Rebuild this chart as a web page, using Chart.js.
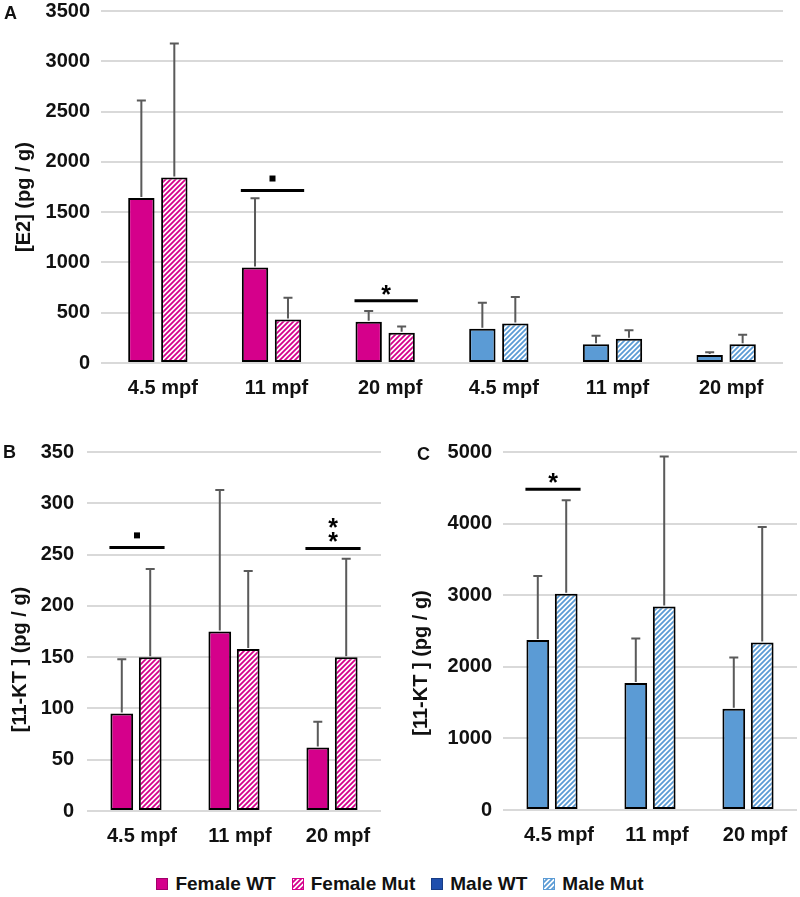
<!DOCTYPE html>
<html><head><meta charset="utf-8">
<script src="https://cdn.jsdelivr.net/npm/chart.js@4"></script>
<style>
body{margin:0;background:#fff;width:800px;height:897px;position:relative;overflow:hidden;font-family:"Liberation Sans",Arial,sans-serif;}
.box{position:absolute;}
.panel{position:absolute;font-weight:bold;font-size:18px;color:#111;line-height:1;}
#legend{position:absolute;left:0;top:872px;width:800px;height:24px;display:flex;justify-content:center;align-items:center;font-weight:bold;font-size:19px;color:#111;}
.item{display:flex;align-items:center;margin:0 8px;}
.item canvas{margin-right:7px;}
</style></head><body>
<div class="box" style="left:0;top:0;width:800px;height:400px"><canvas id="cA" width="800" height="400"></canvas></div>
<div class="box" style="left:0;top:400px;width:400px;height:450px"><canvas id="cB" width="400" height="450"></canvas></div>
<div class="box" style="left:400px;top:400px;width:400px;height:450px"><canvas id="cC" width="400" height="450"></canvas></div>
<div class="panel" style="left:4px;top:4px">A</div>
<div class="panel" style="left:3px;top:443px">B</div>
<div class="panel" style="left:417px;top:445px">C</div>
<div id="legend"></div>
<script>
// ---------- data ----------
const catsA = ['4.5 mpf','11 mpf','20 mpf','4.5 mpf','11 mpf','20 mpf'];
const sexA = ['F','F','F','M','M','M'];
const e2WT = [1640, 950, 410, 340, 186, 80];
const e2WTErr = [980, 698, 118, 268, 96, 37];
const e2Mut = [1845, 432, 302, 392, 242, 186];
const e2MutErr = [1343, 226, 70, 273, 94, 106];

const catsBC = ['4.5 mpf','11 mpf','20 mpf'];
const ktFemWT = [95, 175, 62];
const ktFemWTErr = [54, 139, 26];
const ktFemMut = [150, 158, 150];
const ktFemMutErr = [87, 77, 97];

const ktMaleWT = [2373, 1774, 1413];
const ktMaleWTErr = [908, 636, 730];
const ktMaleMut = [3020, 2841, 2340];
const ktMaleMutErr = [1320, 2111, 1625];

const yTicksA = [0, 3500, 500];
const yTicksB = [0, 350, 50];
const yTicksC = [0, 5000, 1000];

const sigA = [{i:1, y:1715, mark:'sq'}, {i:2, y:618, mark:'*'}];
const sigB = [{i:0, y:257, mark:'sq'}, {i:2, y:256, mark:'**'}];
const sigC = [{i:0, y:4480, mark:'*'}];

const legendNames = ['Female WT','Female Mut','Male WT','Male Mut'];

// ---------- styles ----------
const MAG = '#d5008b', BLUE = '#5b9bd5';
const FONT = '"Liberation Sans", Arial, sans-serif';
function hatch(bg, fg, s, w){
  const c = document.createElement('canvas'); c.width = s; c.height = s;
  const g = c.getContext('2d');
  g.fillStyle = bg; g.fillRect(0,0,s,s);
  g.strokeStyle = fg; g.lineWidth = w; g.lineCap='square';
  g.beginPath();
  g.moveTo(0,s); g.lineTo(s,0);
  g.moveTo(-s/2,s/2); g.lineTo(s/2,-s/2);
  g.moveTo(s/2,s*1.5); g.lineTo(s*1.5,s/2);
  g.stroke();
  return document.createElement('canvas').getContext('2d').createPattern(c,'repeat');
}
const patMag = hatch('#ffffff', MAG, 5, 1.8);
const patBlue = hatch('#ffffff', BLUE, 5, 1.8);

const extras = {
  id:'extras',
  afterDatasetsDraw(chart, args, opts){
    const ctx = chart.ctx, ys = chart.scales.y;
    ctx.save();
    chart.data.datasets.forEach((ds, di) => {
      const meta = chart.getDatasetMeta(di);
      meta.data.forEach((bar, i) => {
        const yTop = ys.getPixelForValue(ds.data[i] + ds.err[i]);
        ctx.strokeStyle = '#5a5a5a'; ctx.lineWidth = 2; ctx.lineCap='butt';
        ctx.beginPath();
        ctx.moveTo(bar.x, bar.y - 1); ctx.lineTo(bar.x, yTop);
        ctx.moveTo(bar.x - 4.5, yTop + 1); ctx.lineTo(bar.x + 4.5, yTop + 1);
        ctx.stroke();
      });
    });
    const m0 = chart.getDatasetMeta(0), m1 = chart.getDatasetMeta(1);
    (opts.sig || []).forEach(s => {
      const a = m0.data[s.i], b = m1.data[s.i];
      const x1 = a.x - a.width/2 - 1, x2 = b.x + b.width/2 + 3;
      const ly = ys.getPixelForValue(s.y);
      ctx.strokeStyle = '#000'; ctx.lineWidth = 3;
      ctx.beginPath(); ctx.moveTo(x1, ly); ctx.lineTo(x2, ly); ctx.stroke();
      const cx = (x1 + x2)/2;
      ctx.fillStyle = '#000';
      if (s.mark === 'sq') {
        ctx.fillRect(cx - 3, ly - 15, 6, 6);
      } else {
        ctx.font = 'bold 25px ' + FONT;
        ctx.textAlign = 'center'; ctx.textBaseline = 'alphabetic';
        const mt = ctx.measureText('*');
        const off = (mt.actualBoundingBoxAscent - mt.actualBoundingBoxDescent)/2;
        const n = s.mark.length;
        for (let k = 0; k < n; k++) {
          const cy = ly - 11 - (n - 1 - k) * 14;
          ctx.fillText('*', cx, cy + off);
        }
      }
    });
    // y-axis title
    if (opts.title) {
      const ca = chart.chartArea;
      ctx.font = 'bold 20px ' + FONT;
      ctx.fillStyle = '#111'; ctx.textAlign = 'center'; ctx.textBaseline = 'middle';
      ctx.translate(opts.title.x, (ca.top + ca.bottom)/2 + opts.title.dy);
      ctx.rotate(-Math.PI/2);
      ctx.fillText(opts.title.text, 0, 0);
    }
    ctx.restore();
  }
};

function makeChart(id, labels, wt, wtErr, mut, mutErr, wtCol, mutCol, ticks, cfg){
  return new Chart(document.getElementById(id), {
    type:'bar',
    data:{ labels, datasets:[
      {label:'WT', data:wt, err:wtErr, backgroundColor:wtCol, borderColor:'#000', borderWidth:2, borderSkipped:false,
       categoryPercentage:0.58, barPercentage:0.8},
      {label:'Mut', data:mut, err:mutErr, backgroundColor:mutCol, borderColor:'#000', borderWidth:2, borderSkipped:false,
       categoryPercentage:0.58, barPercentage:0.8}
    ]},
    options:{
      responsive:false, animation:false,
      layout:{padding:cfg.pad},
      plugins:{legend:{display:false}, tooltip:{enabled:false},
        extras:{sig:cfg.sig, title:cfg.title}},
      scales:{
        x:{grid:{display:false}, border:{display:false},
           ticks:{color:'#111', padding:5, labelOffset:cfg.labelOffset, font:{family:FONT, size:20, weight:'bold'}, maxRotation:0},
           afterFit(s){ s.height = cfg.xHeight; }},
        y:{min:ticks[0], max:ticks[1],
           grid:{color:'#d9d9d9', lineWidth:2, drawTicks:false}, border:{display:false},
           ticks:{stepSize:ticks[2], color:'#111', padding:cfg.tickPad, font:{family:FONT, size:20, weight:'bold'},
                  callback:v => String(v)},
           afterFit(s){ s.width = cfg.yWidth; s.paddingTop = 0; s.paddingBottom = 0; }}
      }
    },
    plugins:[extras]
  });
}

makeChart('cA', catsA, e2WT, e2WTErr, e2Mut, e2MutErr,
  sexA.map(s => s==='F' ? MAG : BLUE), sexA.map(s => s==='F' ? patMag : patBlue), yTicksA,
  {pad:{left:0,right:17,top:11,bottom:0}, yWidth:101, tickPad:11, sig:sigA, xHeight:37, labelOffset:5,
   title:{text:'[E2] (pg / g)', x:24, dy:10}});
makeChart('cB', catsBC, ktFemWT, ktFemWTErr, ktFemMut, ktFemMutErr, MAG, patMag, yTicksB,
  {pad:{left:0,right:19,top:52,bottom:3}, yWidth:87, tickPad:13, sig:sigB, xHeight:36, labelOffset:6,
   title:{text:'[11-KT ] (pg / g)', x:20, dy:28}});
makeChart('cC', catsBC, ktMaleWT, ktMaleWTErr, ktMaleMut, ktMaleMutErr, BLUE, patBlue, yTicksC,
  {pad:{left:0,right:3,top:52,bottom:4}, yWidth:103, tickPad:11, sig:sigC, xHeight:36, labelOffset:7,
   title:{text:'[11-KT ] (pg / g)', x:21, dy:32}});

// ---------- legend ----------
const swatchStyles = [
  {fill:MAG, stroke:'#a0006a'},
  {fill:patMag, stroke:MAG},
  {fill:'#1f4fad', stroke:'#173c85'},
  {fill:patBlue, stroke:BLUE}
];
const leg = document.getElementById('legend');
legendNames.forEach((name, k) => {
  const it = document.createElement('div'); it.className = 'item';
  const c = document.createElement('canvas'); c.width = 12; c.height = 12;
  const g = c.getContext('2d');
  g.fillStyle = swatchStyles[k].fill; g.fillRect(0,0,12,12);
  g.strokeStyle = swatchStyles[k].stroke; g.lineWidth = 1; g.strokeRect(0.5,0.5,11,11);
  const t = document.createElement('span'); t.textContent = name;
  it.appendChild(c); it.appendChild(t); leg.appendChild(it);
});
</script>
</body></html>
